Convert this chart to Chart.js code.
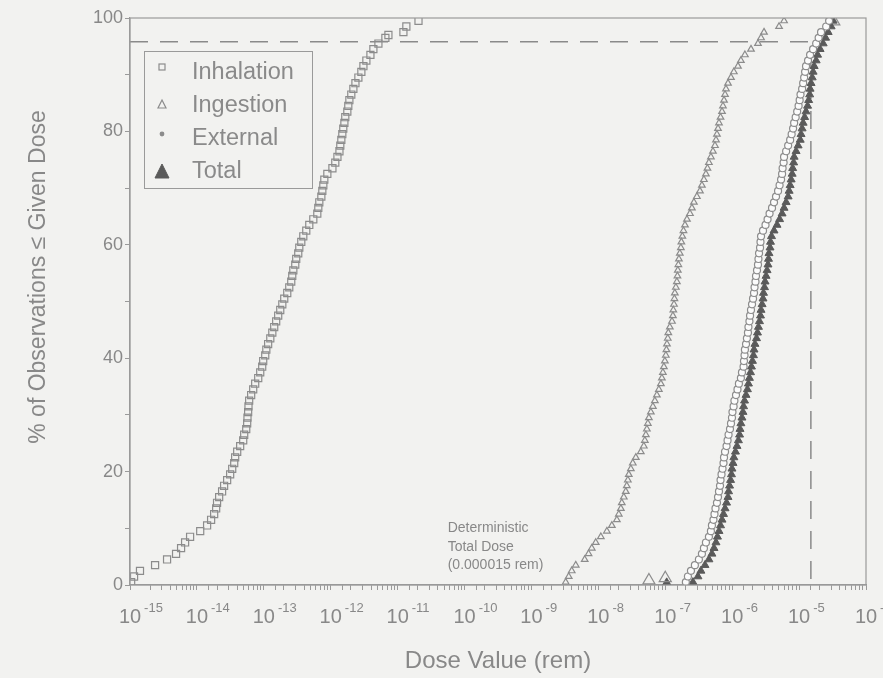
<!DOCTYPE html>
<html>
<head>
<meta charset="utf-8">
<script src="https://cdn.jsdelivr.net/npm/chart.js@4.4.1/dist/chart.umd.min.js"></script>
<style>
  html, body { margin: 0; padding: 0; background: #f2f2f0; overflow: hidden; }
  #wrap { position: relative; width: 883px; height: 678px; }
  #legend {
    position: absolute; left: 144px; top: 51px; width: 169px; height: 138px;
    box-sizing: border-box; border: 1.5px solid #9a9a9a;
    font-family: "Liberation Sans", Arial, sans-serif; font-size: 23.5px; color: #8a8a8a;
  }
  .row { position: absolute; left: 0; width: 100%; height: 30px; line-height: 30px; }
  .row svg { position: absolute; left: 9px; top: 2px; }
  .row span { position: absolute; left: 47px; top: 0; white-space: nowrap; }
</style>
</head>
<body>
<div id="wrap">
  <canvas id="chart" width="883" height="678"></canvas>
  <div id="legend"></div>
</div>
<script>
// cumulative distributions: dose (rem) against % of observations
const inhalationDose = [1.04e-15, 1.15e-15, 1.41e-15, 2.37e-15, 3.58e-15, 4.88e-15, 5.80e-15, 6.66e-15, 7.91e-15,
  1.12e-14, 1.42e-14, 1.63e-14, 1.81e-14, 1.94e-14, 2.0e-14, 2.15e-14, 2.38e-14, 2.55e-14, 2.83e-14, 3.14e-14,
  3.37e-14, 3.61e-14, 3.73e-14, 4.0e-14, 4.43e-14, 4.92e-14, 5.09e-14, 5.46e-14, 5.64e-14, 5.7e-14, 5.83e-14,
  5.9e-14, 6.04e-14, 6.47e-14, 6.94e-14, 7.43e-14, 8.25e-14, 8.84e-14, 9.46e-14, 9.79e-14, 1.05e-13, 1.09e-13,
  1.16e-13, 1.25e-13, 1.34e-13, 1.43e-13, 1.53e-13, 1.64e-13, 1.76e-13, 1.89e-13, 2.02e-13, 2.24e-13, 2.40e-13,
  2.57e-13, 2.66e-13, 2.76e-13, 2.95e-13, 3.05e-13, 3.27e-13, 3.39e-13, 3.63e-13, 3.89e-13, 4.31e-13, 4.78e-13,
  5.49e-13, 6.30e-13, 6.52e-13, 6.75e-13, 7.24e-13, 7.49e-13, 7.75e-13, 8.02e-13, 8.90e-13, 1.06e-12, 1.17e-12,
  1.26e-12, 1.35e-12, 1.39e-12, 1.44e-12, 1.49e-12, 1.54e-12, 1.60e-12, 1.65e-12, 1.77e-12, 1.83e-12, 1.90e-12,
  2.03e-12, 2.18e-12, 2.34e-12, 2.59e-12, 2.87e-12, 3.08e-12, 3.41e-12, 3.92e-12, 4.34e-12, 5.16e-12, 6.56e-12,
  7.28e-12, 1.22e-11, 1.35e-11, 2.05e-11];
const inhalationPct = [0.5, 1.5, 2.5, 3.5, 4.5, 5.5, 6.5, 7.5, 8.5, 9.5, 10.5, 11.5, 12.5, 13.5, 14.5, 15.5, 16.5,
  17.5, 18.5, 19.5, 20.5, 21.5, 22.5, 23.5, 24.5, 25.5, 26.5, 27.5, 28.5, 29.5, 30.5, 31.5, 32.5, 33.5, 34.5, 35.5,
  36.5, 37.5, 38.5, 39.5, 40.5, 41.5, 42.5, 43.5, 44.5, 45.5, 46.5, 47.5, 48.5, 49.5, 50.5, 51.5, 52.5, 53.5, 54.5,
  55.5, 56.5, 57.5, 58.5, 59.5, 60.5, 61.5, 62.5, 63.5, 64.5, 65.5, 66.5, 67.5, 68.5, 69.5, 70.5, 71.5, 72.5, 73.5,
  74.5, 75.5, 76.5, 77.5, 78.5, 79.5, 80.5, 81.5, 82.5, 83.5, 84.5, 85.5, 86.5, 87.5, 88.5, 89.5, 90.5, 91.5, 92.5,
  93.5, 94.5, 95.5, 96.5, 97.0, 97.5, 98.5, 99.5];

// the other three curves share the same percentile steps
const percentiles = [0.5, 1.5, 2.5, 3.5, 4.5, 5.5, 6.5, 7.5, 8.5, 9.5, 10.5, 11.5, 12.5, 13.5, 14.5, 15.5, 16.5,
  17.5, 18.5, 19.5, 20.5, 21.5, 22.5, 23.5, 24.5, 25.5, 26.5, 27.5, 28.5, 29.5, 30.5, 31.5, 32.5, 33.5, 34.5, 35.5,
  36.5, 37.5, 38.5, 39.5, 40.5, 41.5, 42.5, 43.5, 44.5, 45.5, 46.5, 47.5, 48.5, 49.5, 50.5, 51.5, 52.5, 53.5, 54.5,
  55.5, 56.5, 57.5, 58.5, 59.5, 60.5, 61.5, 62.5, 63.5, 64.5, 65.5, 66.5, 67.5, 68.5, 69.5, 70.5, 71.5, 72.5, 73.5,
  74.5, 75.5, 76.5, 77.5, 78.5, 79.5, 80.5, 81.5, 82.5, 83.5, 84.5, 85.5, 86.5, 87.5, 88.5, 89.5, 90.5, 91.5, 92.5,
  93.5, 94.5, 95.5, 96.5, 97.5, 98.5, 99.5];

const ingestionDose = [3.25e-9, 3.61e-9, 4.0e-9, 4.59e-9, 6.25e-9, 7.14e-9, 7.97e-9, 9.14e-9, 1.09e-8, 1.34e-8,
  1.59e-8, 1.89e-8, 2.02e-8, 2.17e-8, 2.24e-8, 2.40e-8, 2.57e-8, 2.66e-8, 2.76e-8, 2.85e-8, 3.06e-8, 3.27e-8,
  3.63e-8, 4.31e-8, 4.78e-8, 4.95e-8, 5.13e-8, 5.31e-8, 5.49e-8, 5.69e-8, 6.09e-8, 6.53e-8, 6.99e-8, 7.49e-8,
  8.02e-8, 8.60e-8, 8.90e-8, 9.21e-8, 9.53e-8, 9.86e-8, 1.02e-7, 1.04e-7, 1.06e-7, 1.09e-7, 1.11e-7, 1.17e-7,
  1.26e-7, 1.30e-7, 1.32e-7, 1.35e-7, 1.37e-7, 1.39e-7, 1.44e-7, 1.49e-7, 1.52e-7, 1.54e-7, 1.57e-7, 1.60e-7,
  1.65e-7, 1.71e-7, 1.74e-7, 1.80e-7, 1.87e-7, 1.97e-7, 2.11e-7, 2.34e-7, 2.50e-7, 2.68e-7, 2.97e-7, 3.30e-7,
  3.53e-7, 3.78e-7, 4.05e-7, 4.27e-7, 4.49e-7, 4.81e-7, 5.16e-7, 5.53e-7, 5.73e-7, 5.92e-7, 6.14e-7, 6.35e-7,
  6.70e-7, 7.05e-7, 7.28e-7, 7.55e-7, 7.82e-7, 8.08e-7, 8.66e-7, 9.60e-7, 1.06e-6, 1.22e-6, 1.35e-6, 1.55e-6,
  1.91e-6, 2.43e-6, 2.70e-6, 2.99e-6, 5.02e-6, 5.96e-6];

const externalDose = [2.03e-7, 2.18e-7, 2.42e-7, 2.77e-7, 3.18e-7, 3.53e-7, 3.78e-7, 4.05e-7, 4.49e-7, 4.81e-7,
  4.98e-7, 5.25e-7, 5.44e-7, 5.63e-7, 5.92e-7, 6.14e-7, 6.35e-7, 6.58e-7, 6.70e-7, 6.93e-7, 7.17e-7, 7.42e-7,
  7.55e-7, 7.82e-7, 8.24e-7, 8.53e-7, 8.83e-7, 9.27e-7, 9.60e-7, 9.93e-7, 1.01e-6, 1.05e-6, 1.08e-6, 1.14e-6,
  1.20e-6, 1.26e-6, 1.35e-6, 1.40e-6, 1.48e-6, 1.50e-6, 1.53e-6, 1.55e-6, 1.61e-6, 1.66e-6, 1.72e-6, 1.75e-6,
  1.81e-6, 1.85e-6, 1.91e-6, 1.98e-6, 2.05e-6, 2.12e-6, 2.16e-6, 2.23e-6, 2.27e-6, 2.35e-6, 2.43e-6, 2.47e-6,
  2.52e-6, 2.61e-6, 2.65e-6, 2.70e-6, 2.89e-6, 3.15e-6, 3.38e-6, 3.62e-6, 3.94e-6, 4.22e-6, 4.52e-6, 4.85e-6,
  5.11e-6, 5.38e-6, 5.57e-6, 5.67e-6, 5.87e-6, 5.96e-6, 6.40e-6, 6.86e-6, 7.35e-6, 7.74e-6, 8.13e-6, 8.43e-6,
  8.89e-6, 9.36e-6, 9.83e-6, 1.02e-5, 1.05e-5, 1.11e-5, 1.15e-5, 1.19e-5, 1.23e-5, 1.27e-5, 1.36e-5, 1.46e-5,
  1.62e-5, 1.80e-5, 1.96e-5, 2.13e-5, 2.54e-5, 2.81e-5];

const totalDose = [2.59e-7, 3.08e-7, 3.41e-7, 3.92e-7, 4.49e-7, 4.98e-7, 5.35e-7, 5.73e-7, 6.03e-7, 6.35e-7,
  6.70e-7, 7.05e-7, 7.42e-7, 7.82e-7, 8.24e-7, 8.66e-7, 8.83e-7, 9.14e-7, 9.46e-7, 9.76e-7, 9.93e-7, 1.03e-6,
  1.06e-6, 1.12e-6, 1.18e-6, 1.24e-6, 1.29e-6, 1.31e-6, 1.35e-6, 1.40e-6, 1.45e-6, 1.48e-6, 1.53e-6, 1.61e-6,
  1.69e-6, 1.75e-6, 1.81e-6, 1.88e-6, 1.94e-6, 2.01e-6, 2.08e-6, 2.12e-6, 2.19e-6, 2.31e-6, 2.39e-6, 2.47e-6,
  2.56e-6, 2.65e-6, 2.70e-6, 2.80e-6, 2.89e-6, 2.94e-6, 3.04e-6, 3.10e-6, 3.21e-6, 3.32e-6, 3.43e-6, 3.49e-6,
  3.55e-6, 3.68e-6, 3.74e-6, 3.87e-6, 4.22e-6, 4.68e-6, 5.11e-6, 5.57e-6, 5.96e-6, 6.40e-6, 6.86e-6, 7.10e-6,
  7.35e-6, 7.61e-6, 7.88e-6, 8.02e-6, 8.29e-6, 8.43e-6, 9.02e-6, 9.67e-6, 1.04e-5, 1.07e-5, 1.11e-5, 1.15e-5,
  1.21e-5, 1.27e-5, 1.34e-5, 1.39e-5, 1.44e-5, 1.46e-5, 1.51e-5, 1.57e-5, 1.62e-5, 1.68e-5, 1.80e-5, 1.89e-5,
  2.06e-5, 2.29e-5, 2.49e-5, 2.72e-5, 3.01e-5, 3.23e-5];

// large triangles sitting on the axis and at the top
const openMarkDose = [5.7e-8, 1.0e-7, 3.3e-5];
const openMarkPct = [0.8, 1.2, 99.4];
const filledMarkDose = [1.05e-7];
const filledMarkPct = [0.2];

// deterministic total dose and its percentile
const detDose = 1.5e-5;
const detPct = 95.8;
const noteLines = ['Deterministic', 'Total Dose', '(0.000015 rem)'];
const noteDose = 5.6e-11;
const notePct = 10;

const xMin = 1e-15, xMax = 1e-4;
const yMin = 0, yMax = 100;
const yTitle = '% of Observations ≤ Given Dose';

const FONT = '"Liberation Sans", Arial, sans-serif';
const TXT = '#888888';

const pairs = (xs, ys) => xs.map((x, i) => ({ x: x, y: ys[i] }));
const isDecade = v => Math.abs(Math.log10(v) - Math.round(Math.log10(v))) < 1e-6;

const decorPlugin = {
  id: 'decor',
  afterDatasetsDraw(chart) {
    const { ctx, chartArea: a, scales } = chart;
    ctx.save();
    ctx.strokeStyle = '#9a9a9a';
    ctx.lineWidth = 1.2;
    ctx.strokeRect(a.left, a.top, a.right - a.left, a.bottom - a.top);

    ctx.fillStyle = TXT;
    // note next to the deterministic marker
    ctx.font = '14px ' + FONT;
    ctx.textAlign = 'left';
    ctx.textBaseline = 'middle';
    const nx = scales.x.getPixelForValue(noteDose);
    const ny = scales.y.getPixelForValue(notePct);
    noteLines.forEach((t, i) => ctx.fillText(t, nx, ny + i * 18.5));

    // decade labels: 10 with a raised exponent
    ctx.textBaseline = 'alphabetic';
    scales.x.ticks.forEach(t => {
      if (!isDecade(t.value)) return;
      const px = scales.x.getPixelForValue(t.value);
      ctx.font = '20px ' + FONT;
      ctx.textAlign = 'center';
      ctx.fillText('10', px, 623);
      const w = ctx.measureText('10').width;
      ctx.font = '13px ' + FONT;
      ctx.textAlign = 'left';
      ctx.fillText(String(Math.round(Math.log10(t.value))), px + w / 2 + 3, 612);
    });

    // y axis title
    ctx.translate(39, 277);
    ctx.rotate(-Math.PI / 2);
    ctx.font = '23px ' + FONT;
    ctx.textAlign = 'center';
    ctx.textBaseline = 'middle';
    ctx.fillText(yTitle, 0, 0);
    ctx.restore();
  }
};

const openStyle = { borderColor: '#8c8c8c', backgroundColor: 'rgba(0,0,0,0)', borderWidth: 1.2 };

const chart = new Chart(document.getElementById('chart'), {
  type: 'scatter',
  data: {
    datasets: [
      Object.assign({ label: 'Inhalation', data: pairs(inhalationDose, inhalationPct), pointStyle: 'rect',
        pointRadius: 5, inLegend: true }, openStyle),
      Object.assign({ label: 'Ingestion', data: pairs(ingestionDose, percentiles), pointStyle: 'triangle',
        pointRadius: 3.8, inLegend: true }, openStyle),
      { label: 'External', data: pairs(externalDose, percentiles), pointStyle: 'circle', pointRadius: 3.5,
        borderColor: '#8c8c8c', backgroundColor: '#fbfbfb', borderWidth: 1.2, inLegend: true, legendFill: '#8c8c8c' },
      { label: 'Total', data: pairs(totalDose, percentiles), pointStyle: 'triangle', pointRadius: 4.6,
        borderColor: '#5a5a5a', backgroundColor: '#5a5a5a', borderWidth: 1, inLegend: true },
      Object.assign({ label: 'axis marks', data: pairs(openMarkDose, openMarkPct), pointStyle: 'triangle',
        pointRadius: 7 }, openStyle),
      { label: 'axis mark', data: pairs(filledMarkDose, filledMarkPct), pointStyle: 'triangle', pointRadius: 6,
        borderColor: '#5a5a5a', backgroundColor: '#5a5a5a', borderWidth: 1 },
      { label: 'deterministic', data: [{ x: xMin, y: detPct }, { x: detDose, y: detPct }, { x: detDose, y: yMin }],
        showLine: true, pointRadius: 0, borderColor: '#8a8a8a', borderWidth: 1.5, borderDash: [18, 12] }
    ]
  },
  options: {
    responsive: false,
    animation: false,
    layout: { padding: { top: 18, right: 17, bottom: 0, left: 0 } },
    plugins: { legend: { display: false }, tooltip: { enabled: false } },
    scales: {
      x: {
        type: 'logarithmic',
        position: 'bottom',
        min: xMin,
        max: xMax,
        grid: { drawOnChartArea: false, tickLength: 5, color: '#9a9a9a' },
        border: { color: '#9a9a9a', width: 1.2 },
        ticks: { display: false, autoSkip: false },
        title: { display: true, text: 'Dose Value (rem)', color: TXT, font: { family: FONT, size: 24 },
          padding: { top: 0, bottom: 2 } },
        afterFit(s) { s.paddingLeft = 0; s.paddingRight = 0; s.height = 93; }
      },
      y: {
        min: yMin,
        max: yMax,
        grid: { drawOnChartArea: false, tickLength: 5, color: '#9a9a9a' },
        border: { color: '#9a9a9a', width: 1.2 },
        ticks: {
          stepSize: 10, padding: 2, color: TXT, font: { family: FONT, size: 18 },
          callback: v => (v % 20 === 0 ? v : '')
        },
        afterFit(s) { s.width = 130; s.paddingTop = 0; s.paddingBottom = 0; }
      }
    }
  },
  plugins: [decorPlugin]
});

// legend box built from the chart's own datasets
const legendEl = document.getElementById('legend');
chart.data.datasets.filter(d => d.inLegend).forEach((d, i) => {
  const row = document.createElement('div');
  row.className = 'row';
  row.style.top = (4 + i * 33) + 'px';
  const fill = d.legendFill || d.backgroundColor;
  let shape;
  if (d.pointStyle === 'rect') {
    shape = `<rect x="5" y="6" width="6" height="6" fill="none" stroke="${d.borderColor}" stroke-width="1.2"/>`;
  } else if (d.pointStyle === 'circle') {
    shape = `<circle cx="8" cy="10" r="2.4" fill="${fill}"/>`;
  } else if (d.label === 'Total') {
    shape = `<polygon points="8,7 15,21 1,21" fill="${fill}" stroke="${d.borderColor}"/>`;
  } else {
    shape = `<polygon points="8,9 12,17 4,17" fill="none" stroke="${d.borderColor}" stroke-width="1.2"/>`;
  }
  row.innerHTML = `<svg width="18" height="24">${shape}</svg><span>${d.label}</span>`;
  legendEl.appendChild(row);
});
</script>
</body>
</html>
